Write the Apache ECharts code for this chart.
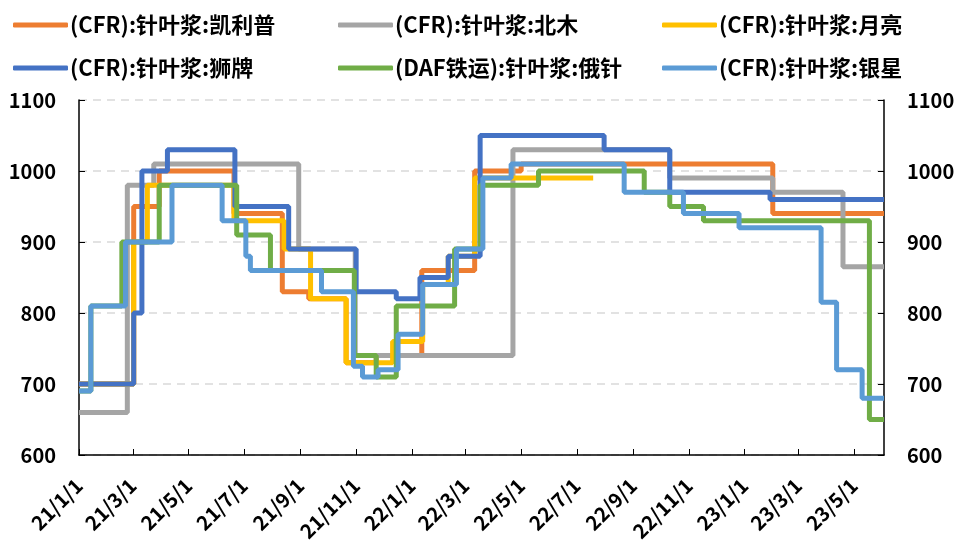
<!DOCTYPE html>
<html>
<head>
<meta charset="utf-8">
<script src="https://cdn.jsdelivr.net/npm/echarts@6/dist/echarts.min.js"></script>
<style>
  html, body { margin: 0; padding: 0; background: #fff; }
  #main { width: 960px; height: 541px; }
</style>
</head>
<body>
<div id="main"></div>
<script>
// 系列名称与颜色
var names = ['(CFR):针叶浆:凯利普', '(CFR):针叶浆:北木', '(CFR):针叶浆:月亮',
             '(CFR):针叶浆:狮牌', '(DAF铁运):针叶浆:俄针', '(CFR):针叶浆:银星'];
var colors = ['#ED7D31', '#A5A5A5', '#FFC000', '#4472C4', '#70AD47', '#5B9BD5'];

// 价格变动日期及价格 (阶梯线)
var kailipu = [['2021-01-01', 700], ['2021-03-02', 950], ['2021-03-30', 1000], ['2021-06-20', 940],
               ['2021-08-12', 830], ['2021-09-10', 820], ['2021-10-21', 730], ['2021-11-23', 740],
               ['2022-01-12', 860], ['2022-03-11', 1000], ['2022-05-01', 1010], ['2023-02-01', 940],
               ['2023-06-03', 940]];
var beimu = [['2021-01-01', 660], ['2021-02-23', 980], ['2021-03-24', 1010], ['2021-08-30', 890],
             ['2021-10-31', 740], ['2022-04-22', 1030], ['2022-10-11', 990], ['2023-02-01', 970],
             ['2023-04-19', 865], ['2023-06-03', 865]];
var yueliang = [['2021-01-01', 700], ['2021-03-02', 900], ['2021-03-17', 980], ['2021-06-20', 930],
                ['2021-08-14', 890], ['2021-09-12', 820], ['2021-10-21', 730], ['2021-12-11', 760],
                ['2022-01-13', 840], ['2022-02-10', 880], ['2022-03-11', 990], ['2022-07-19', 990]];
var shipai = [['2021-01-01', 700], ['2021-03-02', 800], ['2021-03-11', 1000], ['2021-04-08', 1030],
              ['2021-06-21', 950], ['2021-08-19', 890], ['2021-11-01', 830], ['2021-12-15', 820],
              ['2022-01-10', 850], ['2022-02-10', 880], ['2022-03-17', 1050], ['2022-07-31', 1030],
              ['2022-10-11', 970], ['2023-01-29', 960], ['2023-06-03', 960]];
var ezhen = [['2021-01-01', 690], ['2021-01-14', 810], ['2021-02-17', 900], ['2021-03-30', 980],
             ['2021-06-23', 910], ['2021-07-30', 860], ['2021-10-30', 740], ['2021-11-23', 710],
             ['2021-12-15', 810], ['2022-02-17', 890], ['2022-03-17', 980], ['2022-05-20', 1000],
             ['2022-09-13', 970], ['2022-10-11', 950], ['2022-11-17', 930], ['2023-05-18', 650],
             ['2023-06-03', 650]];
var yinxing = [['2021-01-01', 690], ['2021-01-14', 810], ['2021-02-21', 900], ['2021-04-13', 980],
               ['2021-06-07', 930], ['2021-07-03', 880], ['2021-07-08', 860], ['2021-09-24', 830],
               ['2021-10-29', 725], ['2021-11-08', 710], ['2021-11-25', 720], ['2021-12-17', 770],
               ['2022-01-13', 840], ['2022-02-19', 890], ['2022-03-20', 990], ['2022-04-20', 1010],
               ['2022-08-22', 970], ['2022-10-26', 940], ['2022-12-26', 920], ['2023-03-26', 815],
               ['2023-04-12', 720], ['2023-05-10', 680], ['2023-06-03', 680]];
var seriesData = [kailipu, beimu, yueliang, shipai, ezhen, yinxing];

// x轴刻度: 每两个月
var tickDates = ['2021-01-01', '2021-03-01', '2021-05-01', '2021-07-01', '2021-09-01', '2021-11-01',
                 '2022-01-01', '2022-03-01', '2022-05-01', '2022-07-01', '2022-09-01', '2022-11-01',
                 '2023-01-01', '2023-03-01', '2023-05-01'];
var xMin = '2021-01-01', xMax = '2023-06-03';

function toTime(s) {
    var p = s.split('-');
    return Date.UTC(+p[0], +p[1] - 1, +p[2]);
}
var tickValues = tickDates.map(toTime);

var font = '"Noto Sans CJK SC", "Noto Sans", sans-serif';

function makeLegend(left, items) {
    return {
        orient: 'vertical',
        left: left,
        top: 12,
        padding: 0,
        itemWidth: 55,
        itemHeight: 5,
        itemGap: 17,
        icon: 'roundRect',
        data: items,
        textStyle: { fontFamily: font, fontSize: 22, fontWeight: 'bold', color: '#000', lineHeight: 26, padding: [0, 0, 0, -3] }
    };
}

var yAxisBase = {
    type: 'value',
    min: 600,
    max: 1100,
    interval: 100,
    axisLine: { show: true, lineStyle: { color: '#000', width: 1.5 } },
    axisTick: { show: true, inside: true, length: 6, lineStyle: { color: '#000' } },
    axisLabel: {
        fontFamily: font, fontSize: 20, fontWeight: 'bold', color: '#000', margin: 23,
        formatter: function (v) { return String(v); }
    }
};

var Chart = echarts.init(document.getElementById('main'));
Chart.setOption({
    backgroundColor: '#fff',
    animation: false,
    color: colors,
    grid: { left: 79, right: 76, top: 100, bottom: 86, containLabel: false, outerBoundsMode: 'none' },
    legend: [
        makeLegend(13, [names[0], names[3]]),
        makeLegend(338, [names[1], names[4]]),
        makeLegend(662, [names[2], names[5]])
    ],
    xAxis: {
        type: 'value',
        min: toTime(xMin),
        max: toTime(xMax),
        axisLine: { lineStyle: { color: '#000', width: 1.5 } },
        axisTick: { show: true, inside: true, length: 6, customValues: tickValues, lineStyle: { color: '#000' } },
        axisLabel: {
            customValues: tickValues,
            rotate: 45,
            margin: 27,
            fontFamily: font,
            fontSize: 20,
            fontWeight: 'bold',
            color: '#000',
            formatter: function (v) {
                var d = new Date(v);
                return (d.getUTCFullYear() % 100) + '/' + (d.getUTCMonth() + 1) + '/' + d.getUTCDate();
            }
        },
        splitLine: { show: false }
    },
    yAxis: [
        Object.assign({}, yAxisBase, {
            position: 'left',
            splitLine: { show: true, lineStyle: { color: '#D9D9D9', type: [8, 6], width: 1.5 } }
        }),
        Object.assign({}, yAxisBase, { position: 'right', splitLine: { show: false } })
    ],
    series: seriesData.map(function (d, i) {
        return {
            name: names[i],
            type: 'line',
            step: 'end',
            showSymbol: false,
            yAxisIndex: 0,
            data: d.map(function (p) { return [toTime(p[0]), p[1]]; }),
            lineStyle: { width: 5, color: colors[i] },
            itemStyle: { color: colors[i] }
        };
    })
});
</script>
</body>
</html>
